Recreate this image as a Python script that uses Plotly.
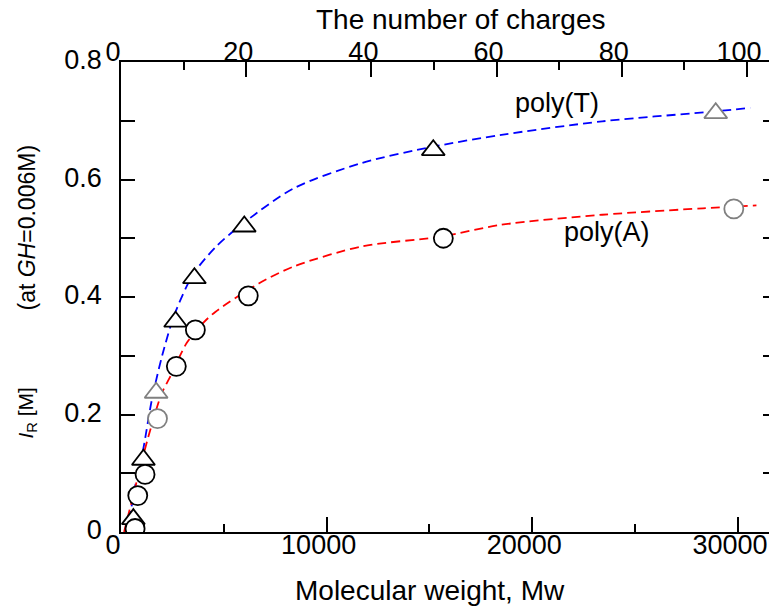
import plotly.graph_objects as go

# ---- data ----
mw_T = [600, 1090, 1710, 2655, 3570, 5995, 15185, 28920]
ir_T = [0.022, 0.123, 0.237, 0.358, 0.432, 0.520, 0.650, 0.713]
col_T = ["black", "black", "gray", "black", "black", "black", "black", "gray"]

mw_A = [684, 815, 1170, 1775, 2690, 3617, 6190, 15675, 29800]
ir_A = [0.006, 0.062, 0.098, 0.193, 0.282, 0.344, 0.402, 0.500, 0.550]
col_A = ["black", "black", "black", "gray", "black", "black", "black", "black", "gray"]

fit_T_mw = [400, 700, 1075, 1500, 2000, 2600, 3500, 4600, 6000, 8400, 11700, 15200, 18500, 23400, 28900, 30600]
fit_T_ir = [0.02, 0.08, 0.140, 0.225, 0.300, 0.370, 0.438, 0.485, 0.527, 0.585, 0.628, 0.656, 0.676, 0.699, 0.716, 0.722]

fit_A_mw = [150, 900, 1320, 1970, 2400, 3200, 4000, 4600, 6700, 8400, 11700, 15600, 18500, 23400, 28300, 30900]
fit_A_ir = [0.0, 0.105, 0.161, 0.235, 0.265, 0.322, 0.356, 0.375, 0.423, 0.452, 0.486, 0.503, 0.523, 0.540, 0.551, 0.556]

x_ticks = [0, 10000, 20000, 30000]
x_ticktext = ["0", "10000", "20000", "30000"]
y_ticks = [0, 0.2, 0.4, 0.6, 0.8]
y_ticktext = ["0", "0.2", "0.4", "0.6", "0.8"]
top_ticks = [0, 20, 40, 60, 80, 100]

FONT = "Liberation Sans, Arial, sans-serif"

# page body has an 8px margin: plot area should land at x 121..777, y 62..532 on screen
PL, PT, PR, PB = 121, 62, 777, 532
W, H = 769, 601


def px(xs):
    return (xs - PL) / (PR - PL)


def py(ys):
    return (PB - ys) / (PB - PT)


fig = go.Figure()
fig.add_trace(go.Scatter(x=fit_T_mw, y=fit_T_ir, mode="lines",
                         line=dict(color="#0000ff", width=1.8, dash="9px,5px", shape="spline", smoothing=0.8),
                         showlegend=False, hoverinfo="skip"))
fig.add_trace(go.Scatter(x=fit_A_mw, y=fit_A_ir, mode="lines",
                         line=dict(color="#ff0000", width=1.8, dash="9px,5px", shape="spline", smoothing=0.8),
                         showlegend=False, hoverinfo="skip"))
fig.add_trace(go.Scatter(x=mw_T, y=ir_T, mode="markers",
                         marker=dict(symbol="triangle-up", size=20, color="white",
                                     line=dict(color=col_T, width=1.8)),
                         showlegend=False))
fig.add_trace(go.Scatter(x=mw_A, y=ir_A, mode="markers",
                         marker=dict(symbol="circle", size=19, color="white",
                                     line=dict(color=col_A, width=1.8)),
                         showlegend=False))
# invisible carrier so the top (charges) axis is drawn
fig.add_trace(go.Scatter(x=top_ticks, y=[0] * len(top_ticks), xaxis="x2", mode="markers",
                         marker=dict(opacity=0), showlegend=False, hoverinfo="skip"))

axis_common = dict(showgrid=False, zeroline=False, showline=True, linecolor="black", linewidth=1.8,
                   ticks="inside", tickcolor="black", tickwidth=1.8, automargin=False,
                   tickfont=dict(family=FONT, size=27, color="black"))

fig.update_layout(
    width=W, height=H,
    margin=dict(l=PL - 8, r=0, t=PT - 8, b=H - (PB - 8), autoexpand=False),
    paper_bgcolor="white", plot_bgcolor="white",
    font=dict(family=FONT, color="black"),
    xaxis=dict(range=[0, 31900], tickvals=x_ticks, ticktext=x_ticktext, ticklen=15,
               minor=dict(dtick=5000, tick0=0, ticks="inside", ticklen=8, tickwidth=1.8, tickcolor="black"),
               ticklabelshift=-8, ticklabelstandoff=-12, **axis_common),
    xaxis2=dict(range=[0, 104.8], overlaying="x", side="top", anchor="y",
                tickvals=top_ticks, ticklen=15,
                minor=dict(dtick=10, tick0=0, ticks="inside", ticklen=8, tickwidth=1.8, tickcolor="black"),
                ticklabelshift=-8, ticklabelstandoff=-12, **axis_common),
    yaxis=dict(range=[0, 0.8], tickvals=y_ticks, ticktext=y_ticktext, ticklen=14, mirror="ticks",
               minor=dict(dtick=0.1, tick0=0, ticks="inside", ticklen=14, tickwidth=1.8, tickcolor="black"),
               ticklabelstandoff=12, ticklabelshift=-2, **axis_common),
    annotations=[
        dict(text="The number of charges", xref="paper", yref="paper", x=px(461), y=py(31.5),
             xanchor="center", yanchor="bottom", yshift=-6, showarrow=False, font=dict(size=28)),
        dict(text="Molecular weight, Mw", xref="paper", yref="paper", x=px(429.5), y=py(590),
             xanchor="center", yanchor="middle", showarrow=False, font=dict(size=28)),
        dict(text="<i>I</i><sub>R</sub> [M]",
             xref="paper", yref="paper", x=0, xshift=26 - PL, y=py(413.5), textangle=-90,
             xanchor="center", yanchor="middle", showarrow=False, font=dict(size=21)),
        dict(text="(at <i>GH</i>=0.006M)",
             xref="paper", yref="paper", x=0, xshift=26 - PL, y=py(227.5), textangle=-90,
             xanchor="center", yanchor="middle", showarrow=False, font=dict(size=23)),
        dict(text="poly(T)", xref="paper", yref="paper", x=px(556.7), y=py(103.3),
             xanchor="center", yanchor="middle", showarrow=False, font=dict(size=27)),
        dict(text="poly(A)", xref="paper", yref="paper", x=px(606.7), y=py(231.7),
             xanchor="center", yanchor="middle", showarrow=False, font=dict(size=27)),
    ],
)

fig.write_html("out.html")
